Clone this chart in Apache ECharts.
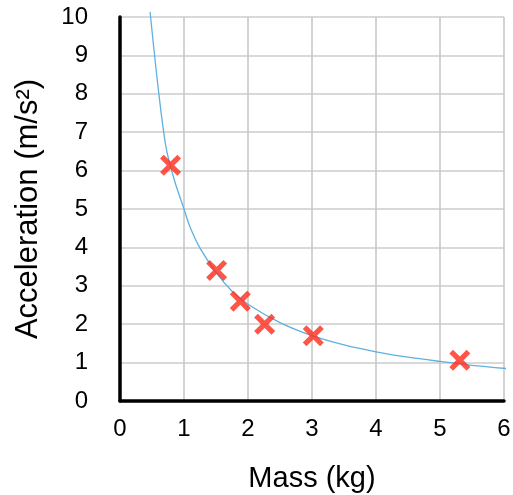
<!DOCTYPE html>
<html>
<head>
<meta charset="utf-8">
<script src="https://cdn.jsdelivr.net/npm/echarts@6/dist/echarts.min.js"></script>
<style>
    html, body { margin: 0; padding: 0; background: #fff; }
    #main { width: 513px; height: 495px; }
</style>
</head>
<body>
<div id="main"></div>
<script>
// measured points (mass kg, acceleration m/s2)
var massData = [0.79, 1.51, 1.88, 2.26, 3.02, 5.31];
var accelData = [6.14, 3.40, 2.60, 2.00, 1.70, 1.06];

// trend line
var fitMass = [0.47, 0.6, 0.72, 0.85, 1.0, 1.09, 1.25, 1.5, 1.75, 2.0, 2.5, 3.0, 3.5, 4.0, 4.5, 5.0, 5.5, 6.07];
var fitAccel = [10.13, 8.1, 6.6, 5.75, 5.0, 4.55, 3.98, 3.35, 2.86, 2.52, 2.04, 1.70, 1.46, 1.28, 1.14, 1.03, 0.93, 0.84];

var yTicks = [0, 1, 2, 3, 4, 5, 6, 7, 8, 9, 10];
var xTicks = [0, 1, 2, 3, 4, 5, 6];

var crossPath = 'path://M3.5,0 L10,6.5 L16.5,0 L20,3.5 L13.5,10 L20,16.5 L16.5,20 L10,13.5 L3.5,20 L0,16.5 L6.5,10 L0,3.5 Z';
var fontName = '"Liberation Sans", Arial, sans-serif';

function zip(a, b) {
    var out = [];
    for (var i = 0; i < a.length; i++) {
        out.push([a[i], b[i]]);
    }
    return out;
}

var option = {
    animation: false,
    backgroundColor: '#fff',
    grid: {
        left: 120,
        right: 9,
        top: 17,
        bottom: 94,
        outerBoundsMode: 'none'
    },
    xAxis: {
        type: 'value',
        min: xTicks[0],
        max: xTicks[xTicks.length - 1],
        interval: 1,
        name: 'Mass (kg)',
        nameLocation: 'middle',
        nameGap: 63,
        nameTextStyle: { fontFamily: fontName, fontSize: 29, color: '#000' },
        axisLine: { show: true, lineStyle: { color: '#000', width: 3.5 } },
        axisTick: { show: false },
        axisLabel: { fontFamily: fontName, fontSize: 24, color: '#000', margin: 16 },
        splitLine: { show: true, lineStyle: { color: '#c4c4c4', width: 1.5 } }
    },
    yAxis: {
        type: 'value',
        min: yTicks[0],
        max: yTicks[yTicks.length - 1],
        interval: 1,
        name: 'Acceleration (m/s²)',
        nameLocation: 'middle',
        nameGap: 76,
        nameTextStyle: { fontFamily: fontName, fontSize: 31, color: '#000' },
        axisLine: { show: true, lineStyle: { color: '#000', width: 3.5 } },
        axisTick: { show: false },
        axisLabel: { fontFamily: fontName, fontSize: 24, color: '#000', margin: 32 },
        splitLine: { show: true, lineStyle: { color: '#cdcdcd', width: 1.5 } }
    },
    series: [
        {
            name: 'Fit',
            type: 'line',
            data: zip(fitMass, fitAccel),
            smooth: 0.3,
            showSymbol: false,
            clip: false,
            lineStyle: { color: '#5eb1e0', width: 1.3 },
            z: 2
        },
        {
            name: 'Measured',
            type: 'scatter',
            data: zip(massData, accelData),
            symbol: crossPath,
            symbolSize: 21,
            itemStyle: { color: '#ff2a1a' },
            z: 3
        }
    ]
};

var chart = echarts.init(document.getElementById('main'));
chart.setOption(option);
</script>
</body>
</html>
